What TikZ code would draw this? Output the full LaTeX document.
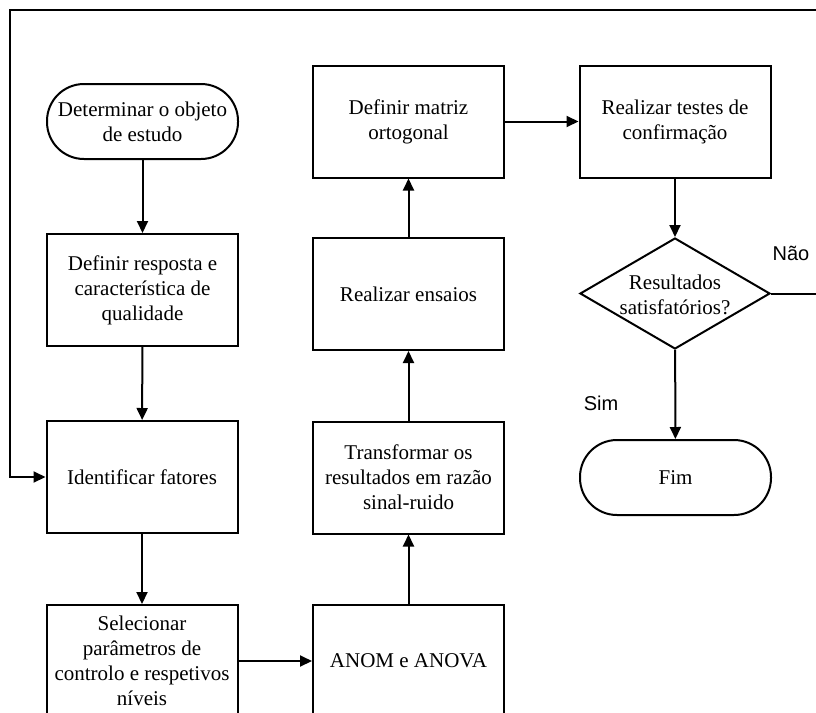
\documentclass[tikz,border=0pt]{standalone}
\usepackage{fontspec}
\setmainfont{Liberation Serif}
\newfontfamily\labfont{Liberation Sans}
\usetikzlibrary{arrows.meta,shapes.geometric}
\begin{document}
\begin{tikzpicture}[x=1pt,y=-1pt,
  every node/.style={font=\fontsize{21}{25}\selectfont},
  procbox/.style={draw,line width=2pt,minimum width=191pt,minimum height=112pt,inner sep=0pt,align=center},
  termbox/.style={draw,line width=2pt,rounded corners=37pt,minimum width=191pt,minimum height=75pt,inner sep=0pt,align=center},
  decbox/.style={draw,line width=2pt,diamond,minimum width=190pt,minimum height=111pt,inner sep=0pt},
  arr/.style={line width=2pt,-{Triangle[length=12pt,width=11pt]}},
  lab/.style={font=\labfont\fontsize{20}{24}\selectfont}]
\clip (0,0) rectangle (816,712);
\fill[white] (0,0) rectangle (816,712);
% column 1
\node[termbox] (det) at (142.5,121.5) {Determinar o objeto\\de estudo};
\node[procbox] (resp) at (142.5,290) {Definir resposta e\\característica de\\qualidade};
\node[procbox] (ident) at (142,477) {Identificar fatores};
\node[procbox] (sel) at (142,661) {Selecionar\\parâmetros de\\controlo e respetivos\\níveis};
% column 2
\node[procbox] (anom) at (408.5,661) {ANOM e ANOVA};
\node[procbox] (transf) at (408.5,477.5) {Transformar os\\resultados em razão\\sinal-ruido};
\node[procbox] (ens) at (408.5,294) {Realizar ensaios};
\node[procbox] (mat) at (408.5,121.5) {Definir matriz\\ortogonal};
% column 3
\node[procbox] (test) at (675,121.5) {Realizar testes de\\confirmação};
\node[decbox] (dec) at (675,293.5) {};
\node[align=center] (dectext) at (675,295) {Resultados\\satisfatórios?};
\node[termbox] (fim) at (675.5,477.5) {Fim};
% labels
\node[lab] (nao) at (791,253) {Não};
\node[lab] (sim) at (601,403) {Sim};
% connectors
\draw[arr] (det) -- (resp);
\draw[arr] (resp) -- (ident);
\draw[arr] (ident) -- (sel);
\draw[arr] (sel) -- (anom);
\draw[arr] (anom) -- (transf);
\draw[arr] (transf) -- (ens);
\draw[arr] (ens) -- (mat);
\draw[arr] (mat) -- (test);
\draw[arr] (test) -- (dec);
\draw[arr] (dec) -- (fim);
\draw[arr] (dec.east) -- (840,293.5) |- (10,10) |- (ident.west);
\end{tikzpicture}
\end{document}
